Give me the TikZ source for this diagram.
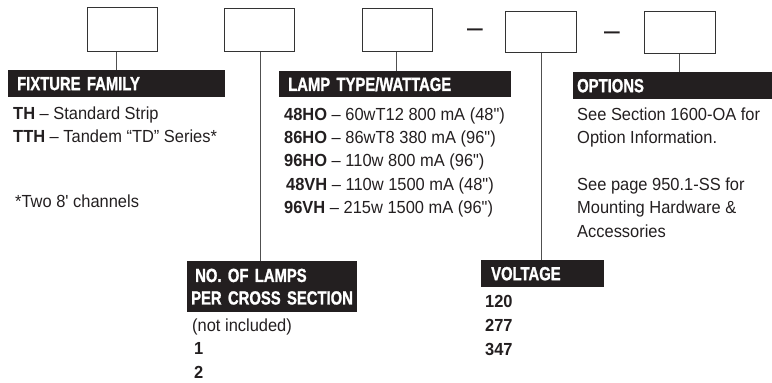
\documentclass[tikz,border=0pt]{standalone}
\usepackage{fontspec}
\newfontfamily\bodyfont{Liberation Sans}[FakeStretch=0.94]
\newfontfamily\hdrfont{Liberation Sans}[FakeStretch=0.78, BoldFeatures={FakeBold=1.2}]
\definecolor{ink}{HTML}{231F20}
\definecolor{boxgray}{HTML}{333333}
\definecolor{linegray}{HTML}{505050}
\begin{document}
\begin{tikzpicture}[x=1pt,y=-1pt,
  box/.style={draw=boxgray, line width=1.2pt, inner sep=0pt},
  bar/.style={fill=ink, text=white, anchor=north west, inner ysep=0pt,
    font=\hdrfont\bfseries\fontsize{19}{22.5}\selectfont, align=left},
  link/.style={draw=linegray, line width=1pt},
  txt/.style={anchor=base west, inner sep=0pt, text=ink,
    font=\bodyfont\fontsize{17.5}{23}\selectfont},
  dashtxt/.style={anchor=base west, inner sep=0pt, text=ink,
    font=\bodyfont\fontsize{30}{30}\selectfont}]
\useasboundingbox (0,0) rectangle (772,383);

% code boxes
\node[box, minimum width=70pt, minimum height=44pt] (b1) at (122.5,29.5) {};
\node[box, minimum width=70pt, minimum height=43pt] (b2) at (259.5,30) {};
\node[box, minimum width=70pt, minimum height=43pt] (b3) at (397.5,30) {};
\node[box, minimum width=71pt, minimum height=41pt] (b4) at (541,32) {};
\node[box, minimum width=71pt, minimum height=42pt] (b5) at (680,32.5) {};

% separators
\node[dashtxt] (d1) at (467,37) {–};
\node[dashtxt] (d2) at (604,40) {–};

% header bars
\node[bar, minimum height=27pt, inner xsep=9pt, text width=199pt] (fam) at (8,70) {FIXTURE FAMILY};
\node[bar, minimum height=26pt, inner xsep=9pt, text width=214pt] (lamp) at (279,71) {LAMP TYPE/WATTAGE};
\node[bar, minimum height=27pt, inner xsep=4pt, text width=191pt] (opt) at (573,72) {OPTIONS};
\node[bar, minimum height=27pt, inner xsep=10pt, text width=103pt] (volt) at (481,260) {VOLTAGE};
\node[bar, minimum height=51pt, inner xsep=4pt, text width=162pt] (num) at (187,261) {\hspace*{4pt}NO. OF LAMPS\\PER CROSS SECTION};

% connectors
\draw[link] ([xshift=-6.5pt]b1.south) -- ([xshift=-6.5pt]b1.south |- fam.north);
\draw[link] ([xshift=0.5pt]b2.south) -- ([xshift=0.5pt]b2.south |- num.north);
\draw[link] ([xshift=-1.5pt]b3.south) -- ([xshift=-1.5pt]b3.south |- lamp.north);
\draw[link] (b4.south) -- (b4.south |- volt.north);
\draw[link] ([xshift=-1pt]b5.south) -- ([xshift=-1pt]b5.south |- opt.north);

% fixture family
\node[txt] (f1) at (13,119) {\textbf{TH} – Standard Strip};
\node[txt] (f2) at (13,142) {\textbf{TTH} – Tandem “TD” Series*};
\node[txt] (f3) at (15,207) {*Two 8' channels};

% lamp type
\node[txt] (l1) at (284,120) {\textbf{48HO} – 60wT12 800 mA (48")};
\node[txt] (l2) at (284,143) {\textbf{86HO} – 86wT8 380 mA (96")};
\node[txt] (l3) at (284,166.5) {\textbf{96HO} – 110w 800 mA (96")};
\node[txt] (l4) at (286,190) {\textbf{48VH} – 110w 1500 mA (48")};
\node[txt] (l5) at (284,213) {\textbf{96VH} – 215w 1500 mA (96")};

% options
\node[txt] (o1) at (577,120.5) {See Section 1600-OA for};
\node[txt] (o2) at (577,143) {Option Information.};
\node[txt] (o3) at (577,190) {See page 950.1-SS for};
\node[txt] (o4) at (577,213.5) {Mounting Hardware \&};
\node[txt] (o5) at (577,237) {Accessories};

% number of lamps
\node[txt] (n1) at (192,331) {(not included)};
\node[txt] (n2) at (194,354.5) {\textbf{1}};
\node[txt] (n3) at (194,378) {\textbf{2}};

% voltage
\node[txt] (v1) at (485,307.5) {\textbf{120}};
\node[txt] (v2) at (485,331.5) {\textbf{277}};
\node[txt] (v3) at (485,355.5) {\textbf{347}};
\end{tikzpicture}
\end{document}
